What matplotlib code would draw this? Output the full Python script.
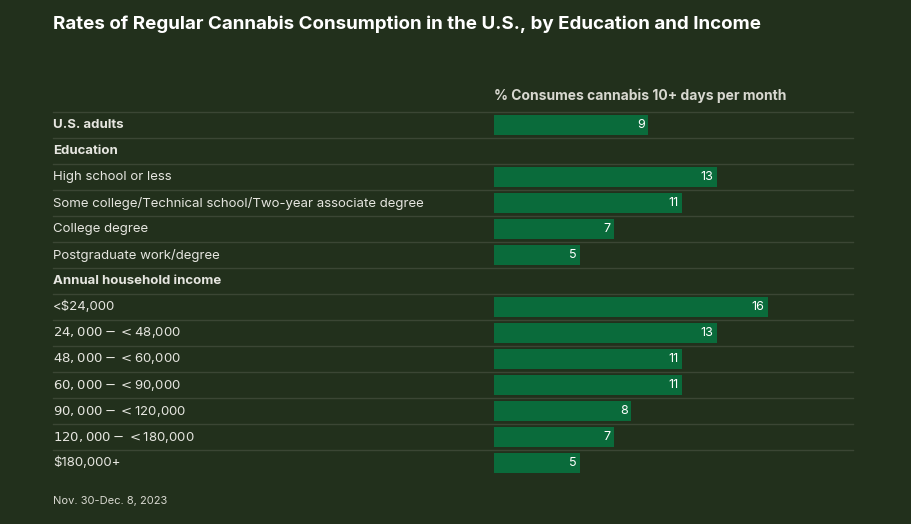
import matplotlib
matplotlib.use("Agg")
import matplotlib.pyplot as plt

plt.rcParams['font.family'] = ['Inter', 'DejaVu Sans']

labels = ["U.S. adults", "Education", "High school or less",
          "Some college/Technical school/Two-year associate degree",
          "College degree", "Postgraduate work/degree", "Annual household income",
          "<$24,000", "$24,000-<$48,000", "$48,000-<$60,000", "$60,000-<$90,000",
          "$90,000-<$120,000", "$120,000-<$180,000", "$180,000+"]
values = [9, None, 13, 11, 7, 5, None, 16, 13, 11, 11, 8, 7, 5]
bold_rows = ["U.S. adults", "Education", "Annual household income"]

bg = "#22301c"
bar_color = "#0a6b3b"
line_color = "#3b4634"
text_color = "#e6e6e0"

W, H = 911, 524
fig = plt.figure(figsize=(W / 100, H / 100), dpi=100, facecolor=bg)

px = 17.125  # pixels per unit
left, right, top, bottom = 494, 853, 112, 476
ax = fig.add_axes([left / W, 1 - bottom / H, (right - left) / W, (bottom - top) / H])
ax.set_facecolor(bg)
n = len(labels)
ax.set_xlim(0, (right - left) / px)
ax.set_ylim(n - 0.5, -0.5)
ax.axis("off")

x_lab = -(left - 53) / px
for i, (lab, v) in enumerate(zip(labels, values)):
    ax.plot([x_lab, (right - left) / px], [i - 0.5, i - 0.5], color=line_color,
            lw=1, clip_on=False)
    ax.text(x_lab, i, lab, color=text_color, fontsize=9.5, va="center", ha="left",
            fontweight="bold" if lab in bold_rows else "normal")
    if v is not None:
        ax.barh(i, v, height=0.77, color=bar_color)
        ax.text(v - 0.2, i, str(v), color="white", fontsize=9, va="center", ha="right")

fig.text(53 / W, 1 - 24 / H, "Rates of Regular Cannabis Consumption in the U.S., by Education and Income",
         color="white", fontsize=13.5, fontweight="bold", va="center", ha="left")
fig.text(494 / W, 1 - 96 / H, "% Consumes cannabis 10+ days per month",
         color="#d8d8d0", fontsize=10, fontweight="bold", va="center", ha="left")
fig.text(53 / W, 1 - 501 / H, "Nov. 30-Dec. 8, 2023", color="#d8d8d0", fontsize=8,
         va="center", ha="left")

fig.savefig("out.png", dpi=100, facecolor=bg)
